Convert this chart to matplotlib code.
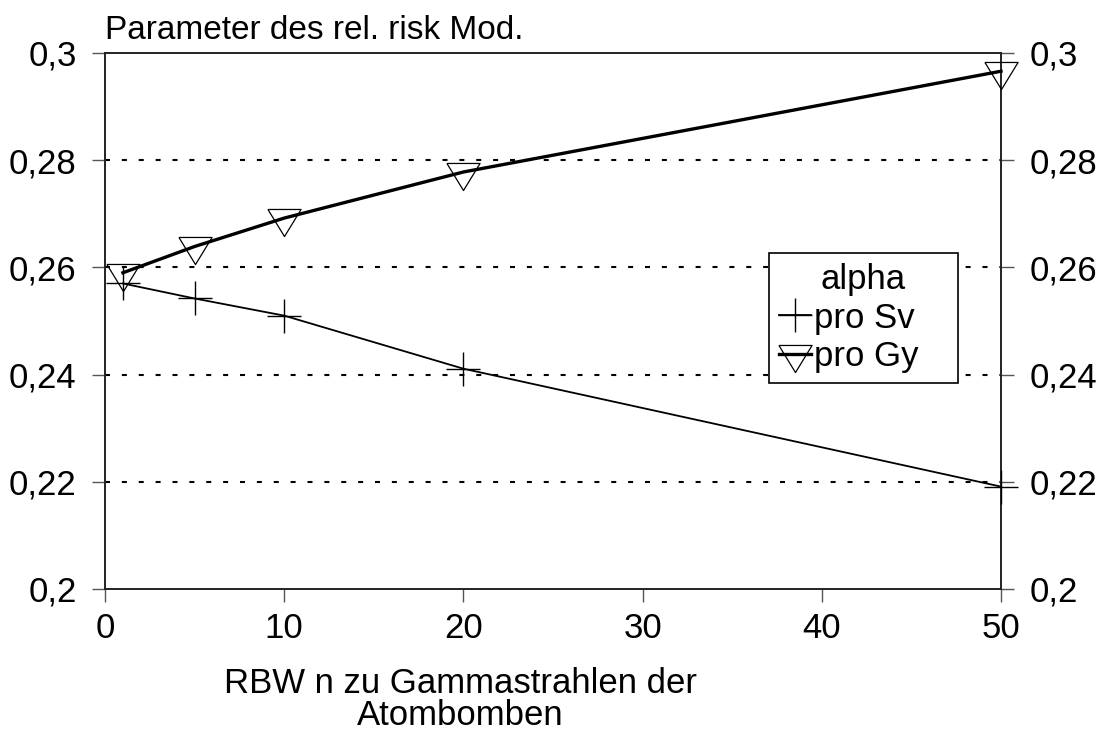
import matplotlib
matplotlib.use("Agg")
import matplotlib.pyplot as plt

# Daten
rbw_n = [1, 5, 10, 20, 50]
alpha_sv = [0.257, 0.2542, 0.251, 0.2411, 0.2191]
alpha_gy = [0.2590, 0.2639, 0.2692, 0.2778, 0.2966]

x_ticks = [0, 10, 20, 30, 40, 50]
y_ticks = [0.2, 0.22, 0.24, 0.26, 0.28, 0.3]
y_labels = ["0,2", "0,22", "0,24", "0,26", "0,28", "0,3"]

plt.rcParams['font.family'] = ['Liberation Sans', 'DejaVu Sans']

fig = plt.figure(figsize=(10.98, 7.33), dpi=100)
ax = fig.add_axes([105 / 1098, 1 - 589 / 733, 896 / 1098, 536 / 733])

# gepunktete Gitterlinien
for yv in y_ticks[1:-1]:
    ax.axhline(yv, color='black', lw=1.5, linestyle=(0, (2.4, 5.7)), zorder=1)

# Dreieck mit Schwerpunkt im Datenpunkt
tri = [(-1, 0.545), (1, 0.545), (0, -1.09), (-1, 0.545)]

ax.plot(rbw_n, alpha_sv, color='black', lw=1.3, marker='+', markersize=24,
        markeredgewidth=1.0, label='pro Sv   ', clip_on=False, zorder=3)
ax.plot(rbw_n, alpha_gy, color='black', lw=2.4, marker=tri, markersize=26,
        markerfacecolor='none', markeredgewidth=0.9, label='pro Gy   ',
        clip_on=False, zorder=3)

ax.set_xlim(0, 50)
ax.set_ylim(0.2, 0.3)
ax.set_xticks(x_ticks)
ax.set_yticks(y_ticks)
ax.set_yticklabels(y_labels)

ax.tick_params(axis='both', direction='out', length=9.5, width=1.0,
               color='#555555', labelsize=25)
ax.tick_params(axis='y', right=True, labelright=True, pad=11)
ax.tick_params(axis='x', pad=7)

for s in ax.spines.values():
    s.set_linewidth(1.4)
    s.set_color('#222222')

fig.text(105 / 1098, 1 - 39 / 733, "Parameter des rel. risk Mod.",
         fontsize=24, ha='left', va='baseline')
# Achsenbeschriftung (zweizeilig)
fig.text(460 / 1098, 1 - 693 / 733, "RBW n zu Gammastrahlen der",
         fontsize=25, ha='center', va='baseline')
fig.text(460 / 1098, 1 - 725 / 733, "Atombomben",
         fontsize=25, ha='center', va='baseline')

leg = fig.legend(loc='upper left', bbox_to_anchor=(769 / 1098, 1 - 253 / 733),
                 title='alpha', fontsize=25, title_fontsize=25, numpoints=1,
                 handlelength=0.9, handletextpad=0.1, borderpad=0.3,
                 borderaxespad=0, labelspacing=0.15, fancybox=False,
                 framealpha=1, edgecolor='black')
leg.get_frame().set_linewidth(1.2)

fig.savefig("out.png", dpi=100)
